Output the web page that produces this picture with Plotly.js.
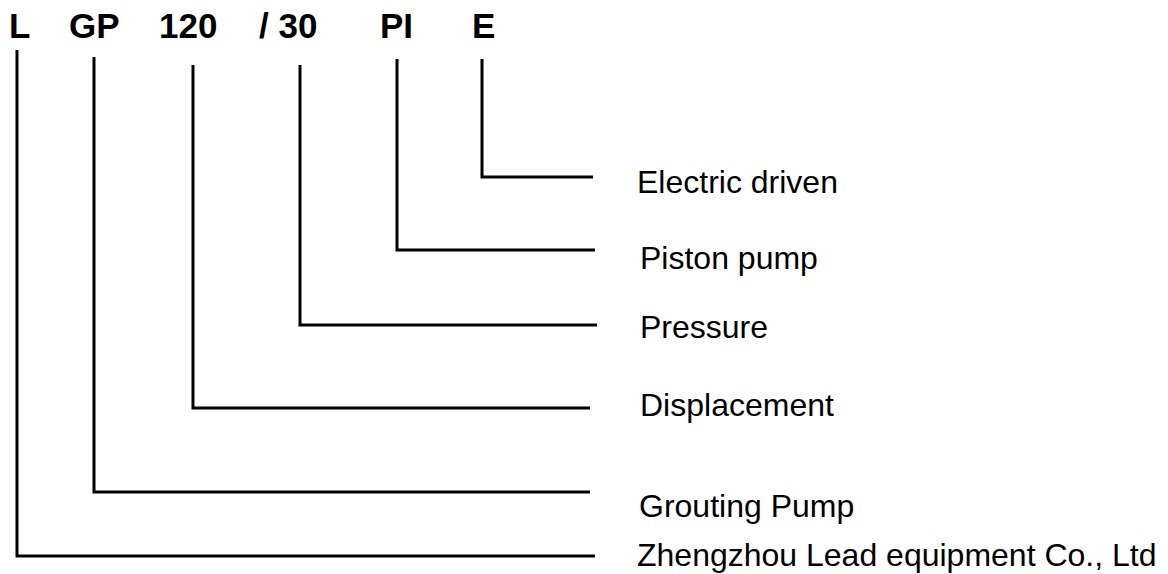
<!DOCTYPE html>
<html>
<head>
<meta charset="utf-8">
<script src="https://cdn.plot.ly/plotly-3.0.1.min.js"></script>
<style>html,body{margin:0;padding:0;background:#fff;}#chart{width:1168px;height:574px;}</style>
</head>
<body>
<div id="chart"></div>
<script>
// Model code segments (top row) and their meanings
var codeLabels = ['L', 'GP', '120', '/ 30', 'PI', 'E'];
var codeTextX = [7, 67, 157, 257, 378, 470];
var codeColumnX = [17, 94, 193, 300, 397, 482];
var codeLineTop = [50, 57, 65, 65, 59, 59];
var branchLevelY = [556, 492, 408, 325, 250, 177];
var branchEndX = [595, 590, 590, 597, 595, 593];
var descriptions = ['Zhengzhou Lead equipment Co., Ltd', 'Grouting Pump', 'Displacement', 'Pressure', 'Piston pump', 'Electric driven'];
var descTextY = [555, 506, 405, 327, 258, 182];
var descTextX = [635, 637, 638, 638, 638, 635];

var traces = codeLabels.map(function (c, i) {
  return {
    type: 'scatter', mode: 'lines', hoverinfo: 'skip', showlegend: false,
    x: [codeColumnX[i], codeColumnX[i], branchEndX[i]],
    y: [codeLineTop[i], branchLevelY[i], branchLevelY[i]],
    line: {color: '#000', width: 3, shape: 'linear'}
  };
});

var annotations = [];
codeLabels.forEach(function (c, i) {
  annotations.push({
    x: codeTextX[i], y: 25, xref: 'x', yref: 'y', text: c, showarrow: false,
    xanchor: 'left', yanchor: 'middle',
    font: {family: 'Liberation Sans, Arial, sans-serif', size: 35, color: '#000', weight: 'bold'}
  });
});
descriptions.forEach(function (d, i) {
  annotations.push({
    x: descTextX[i], y: descTextY[i], xref: 'x', yref: 'y', text: d, showarrow: false,
    xanchor: 'left', yanchor: 'middle',
    font: {family: 'Liberation Sans, Arial, sans-serif', size: 32, color: '#000'}
  });
});

var layout = {
  width: 1168, height: 574,
  margin: {l: 0, r: 0, t: 0, b: 0, pad: 0},
  paper_bgcolor: '#fff', plot_bgcolor: '#fff',
  xaxis: {range: [0, 1168], visible: false, fixedrange: true},
  yaxis: {range: [574, 0], visible: false, fixedrange: true},
  annotations: annotations,
  showlegend: false
};

Plotly.newPlot('chart', traces, layout, {displayModeBar: false, staticPlot: true});
</script>
</body>
</html>
